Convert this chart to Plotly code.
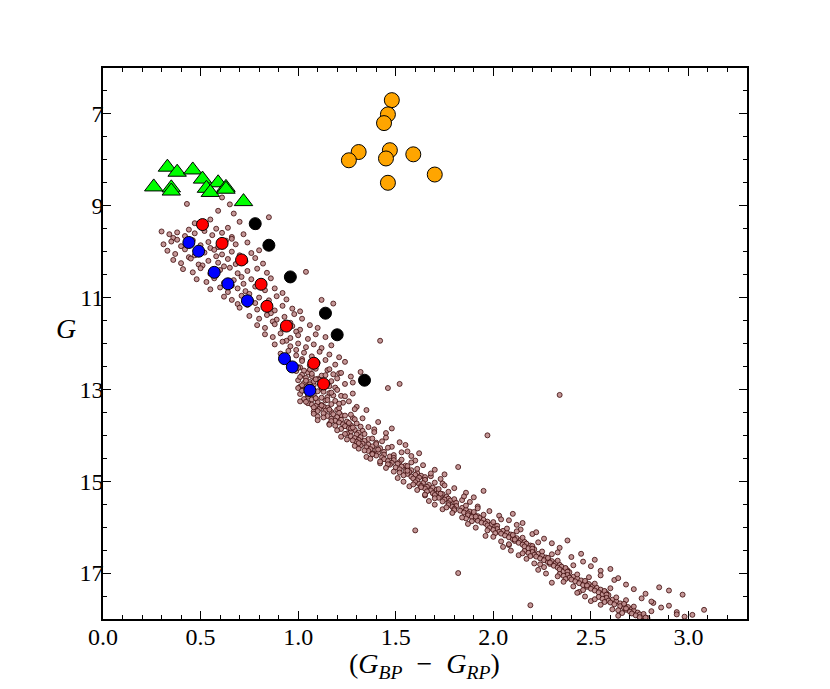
import plotly.graph_objs as go

# cluster sequence: colour index (BP-RP) and G magnitude
field_bp_rp = [
    0.43, 0.59, 0.65, 0.67, 0.61, 0.85, 0.55, 0.70, 0.47, 0.79,
    0.30, 0.34, 0.38, 0.42, 0.47, 0.52, 0.56, 0.61, 0.66, 0.72, 0.36, 0.44, 0.58, 0.64,
    0.31, 0.35, 0.40, 0.46, 0.50, 0.54, 0.59, 0.63, 0.68, 0.74, 0.38, 0.66, 0.55,
    0.33, 0.37, 0.42, 0.47, 0.52, 0.57, 0.61, 0.66, 0.70, 0.76, 0.80, 0.44, 0.58,
    0.36, 0.40, 0.45, 0.49, 0.54, 0.59, 0.64, 0.68, 0.73, 0.78, 0.82, 0.51, 0.62,
    0.41, 0.46, 0.50, 0.55, 0.60, 0.65, 0.69, 0.74, 0.79, 0.84, 0.58, 0.71,
    0.48, 0.53, 0.57, 0.62, 0.67, 0.72, 0.76, 0.81, 0.86, 0.66,
    0.55, 0.60, 0.64, 0.69, 0.73, 0.78, 0.83, 0.88, 0.92, 0.75,
    0.62, 0.66, 0.71, 0.76, 0.80, 0.85, 0.89, 0.94, 0.78, 0.69,
    0.70, 0.74, 0.79, 0.83, 0.88, 0.92, 0.97, 1.01, 0.86,
    0.75, 0.80, 0.84, 0.89, 0.93, 0.98, 1.02, 0.87, 0.96,
    0.79, 0.83, 0.88, 0.92, 0.97, 1.01, 1.06, 1.10, 0.99,
    0.83, 0.87, 0.91, 0.96, 1.00, 1.05, 1.09, 1.14, 0.94,
    0.88, 0.92, 0.96, 1.00, 1.04, 1.08, 1.12, 1.17, 0.99,
    0.91, 0.95, 0.99, 1.03, 1.07, 1.11, 1.16, 1.21, 1.02,
    0.95, 0.98, 1.02, 1.06, 1.10, 1.14, 1.19, 1.24, 1.00,
    1.04, 1.12, 1.18, 1.42, 1.52, 1.46, 2.34, 1.97,
    # 12.5 - 13.0
    1.01, 1.09, 1.15, 0.99, 1.05, 1.21, 1.02, 1.12, 1.27, 1.04,
    1.10, 1.00, 1.17, 1.06, 1.03, 1.24, 1.08, 1.13, 1.01, 1.19,
    1.05, 1.32, 1.07, 1.11, 1.15, 1.04, 1.06, 1.18, 1.08, 1.02,
    1.00, 1.16, 1.03, 1.22, 1.07, 1.14, 1.01, 1.20, 1.09, 1.04, 1.28, 1.06, 1.16, 1.00, 1.12,
    # 13.0 - 13.5
    1.03, 1.10, 1.06, 1.16, 1.01, 1.08, 1.22, 1.05, 1.12, 1.09,
    1.07, 1.14, 1.26, 1.10, 1.05, 1.17, 1.12, 1.09, 1.30, 1.15,
    1.11, 1.20, 1.14, 1.08, 1.13, 1.18, 1.03, 1.23, 1.13, 1.35,
    1.28, 1.15, 1.19, 1.07, 1.21, 1.17,
    1.02, 1.17, 1.05, 1.24, 1.09, 1.15, 1.04, 1.21, 1.12, 1.08, 1.29, 1.10, 1.20, 1.01, 1.16,
    # 13.5 - 14.0
    1.13, 1.18, 1.22, 1.15, 1.20, 1.28, 1.17, 1.22, 1.19, 1.25,
    1.21, 1.30, 1.23, 1.27, 1.24, 1.36, 1.26, 1.22, 1.29, 1.33,
    1.27, 1.31, 1.25, 1.30, 1.27, 1.33, 1.41, 1.19, 1.39, 1.45,
    1.10, 1.16, 1.48, 1.34,
    1.08, 1.24, 1.13, 1.29, 1.17, 1.26, 1.16, 1.32, 1.27, 1.20, 1.39, 1.24, 1.21, 1.10, 1.28,
    # 14.0 - 14.5
    1.27, 1.32, 1.29, 1.36, 1.31, 1.34, 1.30, 1.40, 1.33, 1.36,
    1.32, 1.38, 1.35, 1.42, 1.37, 1.40, 1.36, 1.44, 1.41, 1.38,
    1.44, 1.40, 1.47, 1.43, 1.45, 1.52, 1.48, 1.56, 1.58, 1.25,
    1.31, 1.62, 1.55,
    1.22, 1.38, 1.28, 1.43, 1.31, 1.40, 1.29, 1.46, 1.41, 1.34, 1.53, 1.38, 1.49, 1.35, 1.49,
    # 14.5 - 15.0
    1.44, 1.49, 1.46, 1.52, 1.48, 1.51, 1.47, 1.55, 1.53, 1.50,
    1.56, 1.52, 1.58, 1.55, 1.57, 1.61, 1.56, 1.60, 1.63, 1.58,
    1.62, 1.59, 1.65, 1.61, 1.60, 1.64, 1.70, 1.75, 1.73, 1.42,
    1.52, 1.82, 1.68,
    1.37, 1.53, 1.42, 1.58, 1.46, 1.56, 1.45, 1.61, 1.56, 1.49, 1.68, 1.54, 1.65, 1.51, 1.65,
    # 15.0 - 15.5
    1.60, 1.64, 1.62, 1.67, 1.63, 1.66, 1.69, 1.65, 1.71, 1.68,
    1.66, 1.72, 1.69, 1.74, 1.70, 1.73, 1.76, 1.72, 1.77, 1.75,
    1.78, 1.74, 1.80, 1.77, 1.74, 1.80, 1.86, 1.90, 1.88, 1.57,
    1.65, 1.95, 1.84,
    1.54, 1.70, 1.59, 1.75, 1.63, 1.72, 1.61, 1.77, 1.73, 1.65, 1.85, 1.70, 1.80, 1.67, 1.81,
    # 15.5 - 16.0
    1.77, 1.81, 1.79, 1.84, 1.80, 1.86, 1.83, 1.88, 1.85, 1.87,
    1.90, 1.87, 1.92, 1.89, 1.93, 1.91, 1.95, 1.92, 1.97, 1.94,
    1.96, 1.99, 1.97, 2.01, 1.92, 1.98, 2.03, 2.08, 2.12, 1.74,
    1.86, 2.10, 2.15, 1.60,
    1.70, 1.86, 1.76, 1.92, 1.80, 1.90, 1.79, 1.95, 1.91, 1.84, 2.04, 1.89, 2.00, 1.87, 2.02,
    # 16.0 - 16.5
    1.98, 2.02, 2.00, 2.05, 2.03, 2.07, 2.04, 2.09, 2.06, 2.10,
    2.08, 2.12, 2.10, 2.14, 2.11, 2.16, 2.13, 2.17, 2.15, 2.19,
    2.16, 2.20, 2.18, 2.21, 2.14, 2.20, 2.26, 2.30, 2.34, 1.96,
    2.08, 2.38, 2.22,
    1.91, 2.07, 1.97, 2.12, 2.01, 2.10, 2.00, 2.15, 2.11, 2.04, 2.23, 2.08, 2.20, 2.05, 2.20,
    # 16.5 - 17.0
    2.16, 2.20, 2.18, 2.23, 2.21, 2.25, 2.22, 2.27, 2.24, 2.28,
    2.26, 2.30, 2.28, 2.32, 2.29, 2.34, 2.31, 2.35, 2.33, 2.37,
    2.34, 2.38, 2.36, 2.39, 2.33, 2.40, 2.46, 2.50, 2.55, 2.13,
    2.24, 2.52, 2.60, 1.82, 2.45,
    2.09, 2.25, 2.15, 2.30, 2.19, 2.28, 2.17, 2.33, 2.29, 2.21, 2.41, 2.26, 2.37, 2.23, 2.38,
    # 17.0 - 17.5
    2.34, 2.38, 2.36, 2.41, 2.39, 2.43, 2.40, 2.45, 2.42, 2.47,
    2.44, 2.49, 2.46, 2.51, 2.48, 2.53, 2.50, 2.55, 2.52, 2.57,
    2.54, 2.58, 2.56, 2.59, 2.55, 2.62, 2.68, 2.72, 2.78, 2.30,
    2.44, 2.85, 2.64, 2.90, 2.97,
    2.27, 2.43, 2.33, 2.49, 2.37, 2.47, 2.36, 2.52, 2.48, 2.41, 2.60, 2.46, 2.57, 2.43, 2.58,
    # 17.5 - 18.0
    2.54, 2.58, 2.56, 2.61, 2.59, 2.63, 2.60, 2.65, 2.62, 2.67,
    2.65, 2.69, 2.67, 2.71, 2.68, 2.72, 2.70, 2.74, 2.71, 2.75,
    2.73, 2.77, 2.75, 2.79, 2.76, 2.82, 2.86, 2.94, 2.98, 2.50,
    2.64, 2.90, 3.02, 2.19, 2.81, 2.94, 3.08,
    2.47, 2.63, 2.52, 2.68, 2.57, 2.67, 2.55, 2.72, 2.68, 2.61, 2.81, 2.66, 2.77, 2.64, 2.78,
]
field_g = [
    8.96, 9.11, 8.97, 9.17, 8.82, 9.25, 9.30, 9.35, 9.38, 9.46,
    9.56, 9.62, 9.58, 9.66, 9.60, 9.55, 9.64, 9.59, 9.68, 9.62, 9.70, 9.52, 9.50, 9.48,
    9.84, 9.78, 9.88, 9.75, 9.86, 9.79, 9.90, 9.76, 9.84, 9.80, 9.74, 9.72, 9.92,
    9.98, 10.05, 9.95, 10.08, 10.02, 9.96, 10.06, 10.00, 10.08, 10.03, 9.97, 10.12, 10.10,
    10.18, 10.25, 10.15, 10.28, 10.20, 10.24, 10.16, 10.27, 10.21, 10.14, 10.26, 10.30, 10.32,
    10.38, 10.45, 10.36, 10.48, 10.40, 10.35, 10.47, 10.42, 10.37, 10.46, 10.52, 10.55,
    10.60, 10.66, 10.58, 10.68, 10.62, 10.70, 10.60, 10.66, 10.58, 10.74,
    10.82, 10.78, 10.88, 10.80, 10.86, 10.76, 10.84, 10.80, 10.90, 10.92,
    10.98, 11.05, 10.96, 11.08, 11.00, 11.06, 10.97, 11.04, 11.12, 11.14,
    11.22, 11.16, 11.26, 11.20, 11.28, 11.18, 11.24, 11.30, 11.34,
    11.40, 11.46, 11.38, 11.48, 11.42, 11.36, 11.46, 11.52, 11.55,
    11.60, 11.66, 11.58, 11.68, 11.62, 11.70, 11.60, 11.66, 11.74,
    11.80, 11.86, 11.78, 11.88, 11.82, 11.90, 11.80, 11.86, 11.94,
    12.02, 11.96, 12.06, 12.00, 12.08, 12.02, 12.10, 12.04, 12.14,
    12.22, 12.16, 12.26, 12.20, 12.28, 12.18, 12.24, 12.30, 12.34,
    12.40, 12.46, 12.38, 12.48, 12.42, 12.36, 12.46, 12.40, 12.52,
    10.44, 11.05, 11.13, 11.94, 12.88, 12.97, 13.12, 14.00,
    # 12.5 - 13.0
    12.52, 12.55, 12.58, 12.60, 12.63, 12.65, 12.68, 12.70, 12.72, 12.75,
    12.77, 12.80, 12.82, 12.84, 12.86, 12.88, 12.90, 12.92, 12.94, 12.96,
    12.98, 12.62, 12.71, 12.79, 12.87, 12.95, 12.57, 12.67, 12.83, 12.91,
    12.53, 12.56, 12.59, 12.64, 12.66, 12.69, 12.73, 12.76, 12.78, 12.81, 12.85, 12.89, 12.93, 12.97, 12.99,
    # 13.0 - 13.5
    13.02, 13.04, 13.06, 13.08, 13.10, 13.12, 13.14, 13.16, 13.18, 13.20,
    13.22, 13.24, 13.26, 13.28, 13.30, 13.32, 13.34, 13.36, 13.38, 13.40,
    13.42, 13.44, 13.46, 13.48, 13.05, 13.13, 13.21, 13.29, 13.37, 13.45,
    13.09, 13.17, 13.25, 13.33, 13.41, 13.49,
    13.03, 13.07, 13.11, 13.15, 13.19, 13.23, 13.27, 13.31, 13.35, 13.39, 13.43, 13.47, 13.01, 13.26, 13.44,
    # 13.5 - 14.0
    13.52, 13.54, 13.56, 13.58, 13.60, 13.62, 13.64, 13.66, 13.68, 13.70,
    13.72, 13.74, 13.76, 13.78, 13.80, 13.82, 13.84, 13.86, 13.88, 13.90,
    13.92, 13.94, 13.96, 13.98, 13.55, 13.63, 13.71, 13.79, 13.87, 13.95,
    13.59, 13.75, 13.85, 13.97,
    13.53, 13.57, 13.61, 13.65, 13.69, 13.73, 13.77, 13.81, 13.85, 13.89, 13.93, 13.97, 13.51, 13.67, 13.83,
    # 14.0 - 14.5
    14.02, 14.04, 14.06, 14.08, 14.10, 14.12, 14.14, 14.16, 14.18, 14.20,
    14.22, 14.24, 14.26, 14.28, 14.30, 14.32, 14.34, 14.36, 14.38, 14.40,
    14.42, 14.44, 14.46, 14.48, 14.05, 14.15, 14.25, 14.35, 14.45, 14.09,
    14.29, 14.39, 14.21,
    14.03, 14.07, 14.11, 14.13, 14.17, 14.19, 14.23, 14.27, 14.31, 14.33, 14.37, 14.41, 14.43, 14.47, 14.49,
    # 14.5 - 15.0
    14.52, 14.54, 14.56, 14.58, 14.60, 14.62, 14.64, 14.66, 14.68, 14.70,
    14.72, 14.74, 14.76, 14.78, 14.80, 14.82, 14.84, 14.86, 14.88, 14.90,
    14.92, 14.94, 14.96, 14.98, 14.55, 14.65, 14.75, 14.85, 14.95, 14.61,
    14.81, 14.69, 14.89,
    14.51, 14.53, 14.57, 14.59, 14.63, 14.67, 14.71, 14.73, 14.77, 14.79, 14.83, 14.87, 14.91, 14.93, 14.97,
    # 15.0 - 15.5
    15.02, 15.04, 15.06, 15.08, 15.10, 15.12, 15.14, 15.16, 15.18, 15.20,
    15.22, 15.24, 15.26, 15.28, 15.30, 15.32, 15.34, 15.36, 15.38, 15.40,
    15.42, 15.44, 15.46, 15.48, 15.05, 15.15, 15.25, 15.35, 15.45, 15.11,
    15.31, 15.21, 15.41,
    15.01, 15.03, 15.07, 15.09, 15.13, 15.17, 15.19, 15.23, 15.27, 15.29, 15.33, 15.37, 15.39, 15.43, 15.47,
    # 15.5 - 16.0
    15.52, 15.54, 15.56, 15.58, 15.60, 15.62, 15.64, 15.66, 15.68, 15.70,
    15.72, 15.74, 15.76, 15.78, 15.80, 15.82, 15.84, 15.86, 15.88, 15.90,
    15.92, 15.94, 15.96, 15.98, 15.55, 15.65, 15.75, 15.85, 15.95, 15.61,
    15.81, 15.71, 15.91, 16.07,
    15.51, 15.53, 15.57, 15.59, 15.63, 15.67, 15.69, 15.73, 15.77, 15.79, 15.83, 15.87, 15.89, 15.93, 15.97,
    # 16.0 - 16.5
    16.02, 16.04, 16.06, 16.08, 16.10, 16.12, 16.14, 16.16, 16.18, 16.20,
    16.22, 16.24, 16.26, 16.28, 16.30, 16.32, 16.34, 16.36, 16.38, 16.40,
    16.42, 16.44, 16.46, 16.48, 16.05, 16.15, 16.25, 16.35, 16.45, 16.19,
    16.39, 16.29, 16.11,
    16.01, 16.03, 16.07, 16.09, 16.13, 16.17, 16.21, 16.23, 16.27, 16.31, 16.33, 16.37, 16.41, 16.43, 16.47,
    # 16.5 - 17.0
    16.52, 16.54, 16.56, 16.58, 16.60, 16.62, 16.64, 16.66, 16.68, 16.70,
    16.72, 16.74, 16.76, 16.78, 16.80, 16.82, 16.84, 16.86, 16.88, 16.90,
    16.92, 16.94, 16.96, 16.98, 16.55, 16.65, 16.75, 16.85, 16.95, 16.61,
    16.81, 16.71, 16.91, 17.00, 16.58,
    16.51, 16.53, 16.57, 16.59, 16.63, 16.67, 16.69, 16.73, 16.77, 16.79, 16.83, 16.87, 16.89, 16.93, 16.97,
    # 17.0 - 17.5
    17.02, 17.04, 17.06, 17.08, 17.10, 17.12, 17.14, 17.16, 17.18, 17.20,
    17.22, 17.24, 17.26, 17.28, 17.30, 17.32, 17.34, 17.36, 17.38, 17.40,
    17.42, 17.44, 17.46, 17.48, 17.05, 17.15, 17.25, 17.35, 17.45, 17.21,
    17.41, 17.31, 17.11, 17.38, 17.47,
    17.01, 17.03, 17.07, 17.09, 17.13, 17.17, 17.19, 17.23, 17.27, 17.29, 17.33, 17.37, 17.39, 17.43, 17.47,
    # 17.5 - 18.0
    17.52, 17.54, 17.56, 17.58, 17.60, 17.62, 17.64, 17.66, 17.68, 17.70,
    17.72, 17.74, 17.76, 17.78, 17.80, 17.82, 17.84, 17.86, 17.88, 17.90,
    17.92, 17.94, 17.96, 17.98, 17.55, 17.65, 17.75, 17.85, 17.95, 17.61,
    17.81, 17.71, 17.91, 17.70, 17.62, 17.90, 17.80,
    17.51, 17.53, 17.57, 17.59, 17.63, 17.67, 17.69, 17.73, 17.77, 17.79, 17.83, 17.87, 17.89, 17.93, 17.97,
]

green_bp_rp = [0.33, 0.38, 0.46, 0.51, 0.59, 0.63, 0.26, 0.35, 0.35, 0.53, 0.55, 0.63, 0.72]
green_g = [8.16, 8.27, 8.22, 8.42, 8.50, 8.60, 8.59, 8.61, 8.68, 8.62, 8.71, 8.64, 8.91]

orange_bp_rp = [1.48, 1.46, 1.44, 1.31, 1.26, 1.47, 1.45, 1.59, 1.70, 1.46]
orange_g = [6.70, 7.01, 7.20, 7.83, 8.01, 7.79, 7.97, 7.88, 8.32, 8.50]

red_bp_rp = [0.51, 0.61, 0.71, 0.81, 0.84, 0.94, 1.08, 1.13]
red_g = [9.41, 9.82, 10.18, 10.71, 11.19, 11.62, 12.43, 12.88]

blue_bp_rp = [0.44, 0.49, 0.57, 0.64, 0.74, 0.93, 0.97, 1.06]
blue_g = [9.80, 9.99, 10.45, 10.70, 11.07, 12.33, 12.51, 13.02]

black_bp_rp = [0.78, 0.85, 0.96, 1.14, 1.20, 1.34]
black_g = [9.39, 9.86, 10.55, 11.34, 11.81, 12.80]

fig = go.Figure()

# cluster sequence
fig.add_trace(go.Scatter(
    x=field_bp_rp, y=field_g, mode='markers',
    marker=dict(color='rgba(190,140,140,0.9)', size=5,
                line=dict(color='#3a0808', width=0.8)),
    showlegend=False
))

fig.add_trace(go.Scatter(
    x=green_bp_rp, y=green_g, mode='markers',
    marker=dict(color='#00ff00', symbol='triangle-up', size=16,
                line=dict(color='black', width=1)),
    showlegend=False
))

fig.add_trace(go.Scatter(
    x=orange_bp_rp, y=orange_g, mode='markers',
    marker=dict(color='#ffa500', size=15, line=dict(color='black', width=1)),
    showlegend=False
))

for xs, ys, col in [(red_bp_rp, red_g, '#ff0000'),
                    (blue_bp_rp, blue_g, '#0000ff'),
                    (black_bp_rp, black_g, 'black')]:
    fig.add_trace(go.Scatter(
        x=xs, y=ys, mode='markers',
        marker=dict(color=col, size=12, line=dict(color='black', width=1)),
        showlegend=False
    ))

serif = 'Liberation Serif, serif'
axis_style = dict(
    showline=True, linecolor='black', linewidth=1.5, mirror='ticks',
    ticks='inside', ticklen=8, tickwidth=1, tickcolor='black',
    showgrid=False, zeroline=False,
    tickfont=dict(family=serif, size=24, color='black'),
)

# page body has an 8px margin, so the figure is drawn a little smaller
fig.update_layout(
    width=822, height=681,
    margin=dict(l=95, r=83, t=60, b=70),
    plot_bgcolor='white', paper_bgcolor='white',
    xaxis=dict(range=[0, 3.3], dtick=0.5, tick0=0, tickformat='.1f',
               ticklabelstandoff=-5,
               minor=dict(dtick=0.1, ticks='inside', ticklen=4, tickcolor='black'),
               **axis_style),
    yaxis=dict(range=[18, 6], dtick=2, tick0=7,
               ticklabelstandoff=-7,
               minor=dict(dtick=0.5, ticks='inside', ticklen=4, tickcolor='black'),
               **axis_style),
    annotations=[
        dict(text='(<i>G</i><sub><i>BP</i></sub>\u2002−\u2002<i>G</i><sub><i>RP</i></sub>)',
             xref='paper', yref='paper', x=0.499, y=-0.084,
             xanchor='center', yanchor='middle', showarrow=False,
             font=dict(family=serif, size=28, color='black')),
        dict(text='<i>G</i>', xref='paper', yref='paper', x=-0.057, y=0.528,
             xanchor='center', yanchor='middle', showarrow=False,
             font=dict(family=serif, size=28, color='black')),
    ],
)

fig.write_html("out.html")
